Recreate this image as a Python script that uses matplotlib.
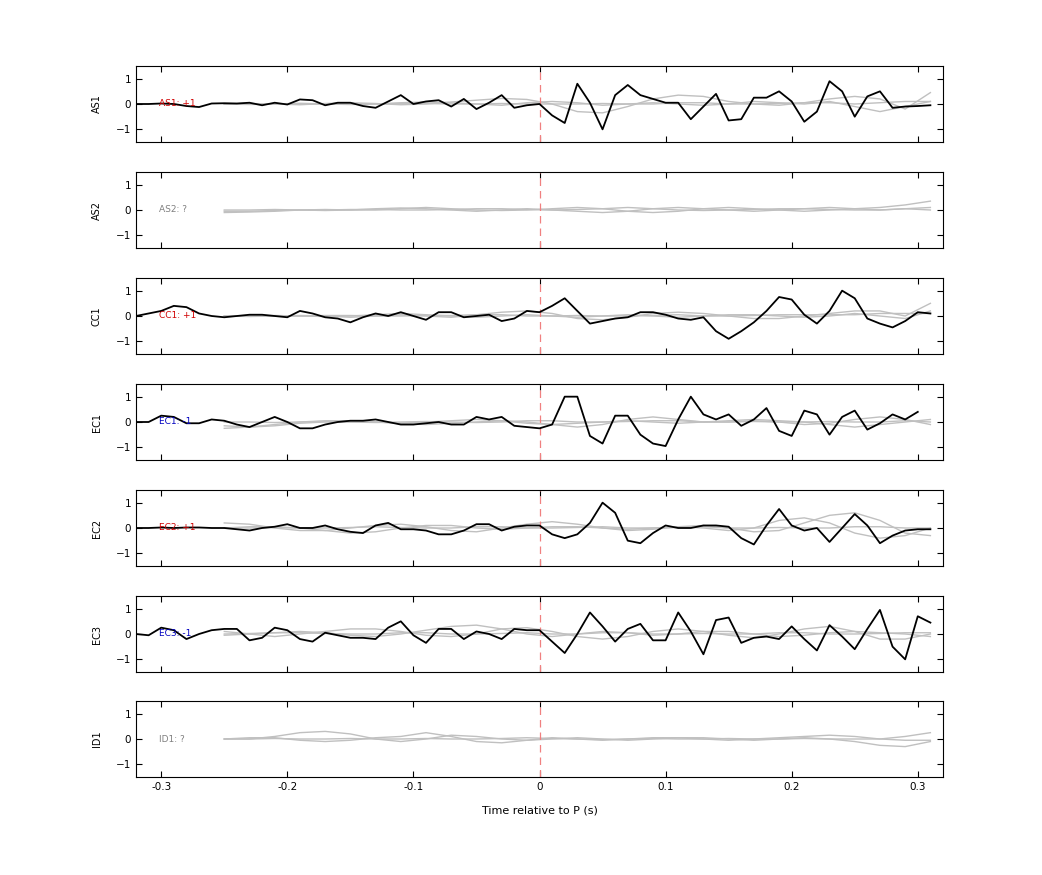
import numpy as np
import matplotlib
matplotlib.use("Agg")
import matplotlib.pyplot as plt

t_black = np.round(np.arange(-0.32, 0.315, 0.01), 2)
t_gray = np.round(np.arange(-0.25, 0.325, 0.02), 2)

stations = ["AS1", "AS2", "CC1", "EC1", "EC2", "EC3", "ID1"]
labels = ["AS1: +1", "AS2: ?", "CC1: +1", "EC1: -1", "EC2: +1", "EC3: -1", "ID1: ?"]
label_colors = ["#d00000", "#808080", "#d00000", "#0000c0", "#d00000", "#0000c0", "#808080"]

AS1 = [0, 0, 0.02, 0.0, -0.08, -0.12, 0.02, 0.03, 0.02, 0.05, -0.05, 0.05, -0.02, 0.18, 0.15, -0.05,
       0.05, 0.05, -0.08, -0.15, 0.1, 0.35, 0.0, 0.1, 0.15, -0.1, 0.2, -0.2, 0.05, 0.35, -0.15, -0.05, 0.0,
       -0.45, -0.75, 0.8, 0.05, -1.0, 0.35, 0.75, 0.35, 0.2, 0.05, 0.05, -0.6, -0.1, 0.4, -0.65, -0.6,
       0.25, 0.25, 0.5, 0.1, -0.7, -0.3, 0.9, 0.5, -0.5, 0.3, 0.5, -0.15, -0.1, -0.08, -0.05]
CC1 = [0, 0.1, 0.2, 0.4, 0.35, 0.1, 0.0, -0.05, 0.0, 0.05, 0.05, 0.0, -0.05, 0.2, 0.1, -0.05, -0.1,
       -0.25, -0.05, 0.1, 0.0, 0.15, 0.0, -0.15, 0.15, 0.15, -0.05, 0.0, 0.05, -0.2, -0.1, 0.2, 0.15,
       0.4, 0.7, 0.2, -0.3, -0.2, -0.1, -0.05, 0.15, 0.15, 0.05, -0.1, -0.15, -0.05, -0.6, -0.9, -0.6,
       -0.25, 0.2, 0.75, 0.65, 0.05, -0.3, 0.2, 1.0, 0.7, -0.1, -0.3, -0.45, -0.2, 0.15, 0.1]
EC1 = [0, 0, 0.25, 0.2, -0.05, -0.05, 0.1, 0.05, -0.1, -0.2, 0.0, 0.2, 0.0, -0.25, -0.25, -0.1, 0.0,
       0.05, 0.05, 0.1, 0.0, -0.1, -0.1, -0.05, 0.0, -0.1, -0.1, 0.2, 0.1, 0.2, -0.15, -0.2, -0.25,
       -0.1, 1.0, 1.0, -0.55, -0.85, 0.25, 0.25, -0.5, -0.85, -0.95, 0.1, 1.0, 0.3, 0.1, 0.3, -0.15,
       0.1, 0.55, -0.35, -0.55, 0.45, 0.3, -0.5, 0.2, 0.45, -0.3, -0.05, 0.3, 0.1, 0.4]
EC2 = [0, 0, 0.02, 0, 0.02, 0.02, 0, 0, -0.05, -0.1, 0.0, 0.05, 0.15, 0.0, 0.0, 0.1, -0.05, -0.15,
       -0.2, 0.1, 0.2, -0.05, -0.05, -0.1, -0.25, -0.25, -0.1, 0.15, 0.15, -0.1, 0.05, 0.1, 0.1,
       -0.25, -0.4, -0.25, 0.2, 1.0, 0.6, -0.5, -0.6, -0.2, 0.1, 0.0, 0.0, 0.1, 0.1, 0.05, -0.4, -0.65,
       0.1, 0.75, 0.1, -0.1, 0.0, -0.55, 0.0, 0.55, 0.1, -0.6, -0.3, -0.1, -0.05, -0.05]
EC3 = [0, -0.05, 0.25, 0.15, -0.2, 0.0, 0.15, 0.2, 0.2, -0.25, -0.15, 0.25, 0.15, -0.2, -0.3, 0.05,
       -0.05, -0.15, -0.15, -0.2, 0.25, 0.5, -0.05, -0.35, 0.2, 0.2, -0.2, 0.1, 0.0, -0.2, 0.2, 0.15, 0.15,
       -0.3, -0.75, 0.0, 0.85, 0.3, -0.3, 0.2, 0.4, -0.25, -0.25, 0.85, 0.1, -0.8, 0.55, 0.65, -0.35,
       -0.15, -0.1, -0.2, 0.3, -0.2, -0.65, 0.35, -0.1, -0.6, 0.2, 0.95, -0.5, -1.0, 0.7, 0.45]
black = {"AS1": AS1, "CC1": CC1, "EC1": EC1, "EC2": EC2, "EC3": EC3}

gray = {
    "AS1": [[0, 0.02, 0.0, -0.03, 0.02, 0.05, 0.02, -0.03, 0.0, 0.08, 0.15, 0.22, 0.18, 0.0, -0.3, -0.35, -0.1, 0.2, 0.35, 0.3, 0.1, 0.0, -0.05, 0.05, 0.2, 0.3, 0.2, -0.2, 0.45],
            [0, -0.02, 0.0, 0.03, 0.0, -0.02, 0.0, 0.05, 0.08, 0.05, 0.0, -0.05, 0.05, 0.1, 0.05, -0.05, 0.0, 0.05, 0.0, -0.05, 0.0, 0.1, 0.05, 0.0, 0.1, -0.1, -0.3, -0.1, 0.1],
            [0, 0.0, 0.0, 0.0, 0.0, 0.0, 0.0, 0.02, 0.02, 0.0, 0.0, 0.02, 0.0, 0.0, 0.0, 0.02, 0.0, 0.0, 0.05, 0.05, 0.0, 0.0, 0.02, 0.05, 0.05, 0.0, 0.05, 0.1, 0.1]],
    "AS2": [[-0.1, -0.08, -0.05, 0.0, 0.02, 0.0, 0.0, 0.05, 0.1, 0.05, 0.0, -0.02, 0.0, 0.05, 0.1, 0.05, -0.05, -0.1, -0.05, 0.05, 0.1, 0.05, 0.0, -0.05, 0.0, 0.05, 0.1, 0.2, 0.35],
            [0.0, 0.0, 0.02, 0.0, -0.02, 0.0, 0.05, 0.08, 0.05, 0.0, -0.05, 0.0, 0.05, 0.0, -0.05, -0.1, -0.05, 0.05, 0.1, 0.05, 0.0, -0.05, 0.0, 0.05, 0.1, 0.05, 0.0, 0.05, 0.1],
            [-0.05, -0.05, -0.02, 0.0, 0.0, 0.02, 0.02, 0.0, 0.0, 0.02, 0.05, 0.05, 0.02, 0.0, 0.02, 0.05, 0.1, 0.05, 0.0, -0.02, 0.0, 0.02, 0.05, 0.05, 0.02, 0.0, 0.0, 0.05, 0.0]],
    "CC1": [[0, -0.02, 0.0, 0.02, 0.0, -0.05, 0.0, 0.05, 0.0, -0.05, 0.05, 0.15, 0.2, 0.1, -0.1, -0.15, -0.05, 0.1, 0.15, 0.1, 0.0, -0.1, -0.1, 0.0, 0.1, 0.2, 0.2, 0.0, 0.5],
            [0, 0.0, 0.02, 0.0, -0.02, 0.0, 0.05, 0.1, 0.05, 0.0, -0.05, 0.0, 0.05, 0.0, -0.05, 0.0, 0.05, 0.0, -0.05, 0.0, 0.05, 0.05, 0.0, -0.05, 0.0, 0.1, 0.0, -0.1, 0.2],
            [0, 0.0, 0.0, 0.0, 0.02, 0.02, 0.0, 0.0, 0.02, 0.02, 0.05, 0.05, 0.0, 0.0, 0.02, 0.0, 0.0, 0.02, 0.05, 0.0, 0.0, 0.02, 0.05, 0.05, 0.05, 0.05, 0.1, 0.1, 0.1]],
    "EC1": [[-0.15, -0.2, -0.15, -0.05, 0.0, 0.0, 0.0, -0.05, -0.1, -0.05, 0.0, 0.05, 0.0, -0.1, -0.2, -0.1, 0.1, 0.2, 0.1, 0.0, 0.0, 0.05, 0.0, -0.1, -0.05, 0.1, 0.2, 0.1, -0.1],
            [-0.25, -0.2, -0.1, 0.0, 0.05, 0.05, 0.0, -0.05, 0.0, 0.05, 0.1, 0.05, -0.05, -0.1, -0.05, 0.0, 0.05, 0.0, -0.05, 0.0, 0.05, 0.1, 0.05, 0.0, -0.1, -0.2, -0.1, 0.0, 0.1],
            [0, 0.0, -0.02, 0.0, 0.02, 0.0, -0.02, 0.0, 0.02, 0.0, -0.02, 0.0, 0.05, 0.05, 0.0, 0.0, 0.02, 0.05, 0.05, 0.0, 0.0, 0.02, 0.0, 0.0, 0.02, 0.0, 0.0, 0.05, 0.0]],
    "EC2": [[0.2, 0.15, 0.0, -0.1, -0.1, 0.0, 0.1, 0.15, 0.05, -0.1, -0.15, 0.0, 0.15, 0.25, 0.15, 0.0, -0.1, -0.05, 0.05, 0.1, 0.0, -0.15, -0.1, 0.2, 0.5, 0.6, 0.3, -0.2, -0.3],
            [0.0, 0.05, 0.05, 0.0, -0.1, -0.2, -0.15, 0.0, 0.1, 0.1, 0.0, -0.05, 0.0, 0.05, 0.05, 0.0, -0.05, 0.0, 0.05, 0.0, -0.1, 0.0, 0.3, 0.4, 0.2, -0.2, -0.4, -0.3, 0.0],
            [0.0, 0.0, 0.02, 0.0, 0.0, 0.02, 0.05, 0.02, 0.0, 0.0, 0.05, 0.05, 0.0, 0.0, 0.02, 0.05, 0.0, 0.0, 0.02, 0.05, 0.0, 0.0, 0.02, 0.0, 0.0, 0.05, 0.05, 0.0, 0.0]],
    "EC3": [[0.1, 0.0, -0.1, 0.0, 0.1, 0.2, 0.2, 0.1, -0.05, -0.1, 0.0, 0.2, 0.25, 0.1, -0.1, -0.2, -0.1, 0.1, 0.2, 0.1, -0.05, -0.15, 0.0, 0.2, 0.3, 0.1, -0.2, -0.2, 0.0],
            [-0.05, 0.0, 0.05, 0.1, 0.05, -0.05, -0.1, 0.0, 0.15, 0.3, 0.35, 0.2, 0.0, -0.1, 0.0, 0.1, 0.05, -0.05, 0.0, 0.1, 0.1, 0.0, -0.1, -0.05, 0.05, 0.1, 0.05, 0.0, -0.1],
            [0.0, 0.02, 0.05, 0.05, 0.02, 0.0, 0.0, 0.05, 0.05, 0.0, 0.0, 0.02, 0.05, 0.0, 0.0, 0.05, 0.05, 0.0, 0.0, 0.02, 0.0, 0.0, 0.05, 0.05, 0.0, 0.0, 0.02, 0.05, 0.05]],
    "ID1": [[0.0, 0.0, 0.1, 0.25, 0.3, 0.2, 0.0, -0.1, 0.0, 0.15, 0.1, 0.0, -0.05, 0.0, 0.05, 0.0, -0.05, 0.0, 0.05, 0.05, 0.0, -0.05, 0.0, 0.05, 0.0, -0.1, -0.25, -0.3, -0.1],
            [0.0, 0.05, 0.05, -0.05, -0.1, -0.05, 0.05, 0.1, 0.25, 0.1, -0.1, -0.15, -0.05, 0.05, 0.0, -0.05, 0.0, 0.05, 0.05, 0.0, -0.05, 0.0, 0.05, 0.1, 0.15, 0.1, 0.0, 0.1, 0.25],
            [0.0, 0.0, 0.02, 0.0, 0.0, 0.02, 0.0, 0.0, 0.02, 0.0, 0.0, 0.02, 0.05, 0.02, 0.0, -0.02, 0.0, 0.02, 0.0, 0.0, 0.02, 0.0, 0.0, 0.02, 0.0, 0.0, 0.0, -0.05, -0.05]],
}

W, H = 1042, 875
fig = plt.figure(figsize=(W / 100, H / 100), dpi=100)
plt.rcParams['font.family'] = ['DejaVu Sans']
left, right = 136 / W, 943 / W
tops = [66, 172, 278, 384, 490, 596, 701]
ph = 76
for i, st in enumerate(stations):
    ax = fig.add_axes([left, 1 - (tops[i] + ph) / H, right - left, ph / H])
    for g in gray[st]:
        ax.plot(t_gray[:len(g)], g, color="#c0c0c0", lw=1)
    ax.axvline(0, color="#f08080", ls=(0, (6, 4)), lw=0.9)
    if st in black:
        y = black[st]
        ax.plot(t_black[:len(y)], y, color="black", lw=1.3)
    ax.text(-0.302, 0, labels[i], color=label_colors[i], fontsize=6.5, va="center", ha="left")
    ax.set_xlim(-0.32, 0.32)
    ax.set_ylim(-1.5, 1.5)
    ax.set_yticks([-1, 0, 1])
    ax.set_xticks([-0.3, -0.2, -0.1, 0, 0.1, 0.2, 0.3])
    ax.tick_params(direction="in", top=True, right=True, labelsize=7.5, length=4)
    ax.set_ylabel(st, fontsize=7, labelpad=10)
    if i < len(stations) - 1:
        ax.set_xticklabels([])
    else:
        ax.set_xticklabels(["-0.3", "-0.2", "-0.1", "0", "0.1", "0.2", "0.3"])
        ax.set_xlabel("Time relative to P (s)", fontsize=8, labelpad=10)
fig.savefig("out.png", dpi=100)
